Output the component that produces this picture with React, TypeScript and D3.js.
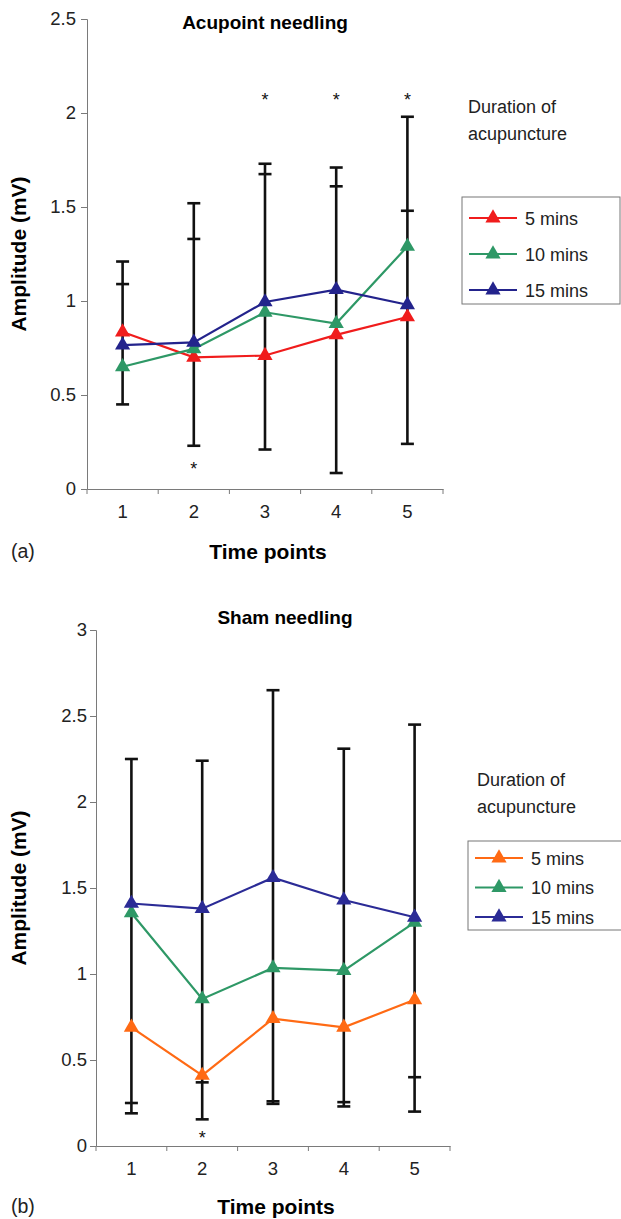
import React, { useRef, useEffect } from 'react';
import * as d3 from 'd3';

const timePoints = ['1', '2', '3', '4', '5'];
const seriesNames = ['5 mins', '10 mins', '15 mins'];

// (a) acupoint needling, mean amplitude (mV)
const acu5 = [0.835, 0.7, 0.71, 0.82, 0.915];
const acu10 = [0.65, 0.745, 0.94, 0.88, 1.29];
const acu15 = [0.765, 0.78, 0.995, 1.06, 0.98];
// error bar end values at each time point
const acuErrorEnds = [
  [1.21, 1.09, 0.45],
  [1.52, 1.33, 0.23],
  [1.73, 1.675, 0.21],
  [1.71, 1.61, 0.085],
  [1.98, 1.48, 0.24],
];
const acuStars = [
  { t: '2', v: 0.13 },
  { t: '3', v: 2.09 },
  { t: '4', v: 2.09 },
  { t: '5', v: 2.09 },
];
const acuTicks = [0, 0.5, 1, 1.5, 2, 2.5];

// (b) sham needling
const sham5 = [0.69, 0.41, 0.74, 0.69, 0.85];
const sham10 = [1.355, 0.855, 1.035, 1.02, 1.3];
const sham15 = [1.41, 1.38, 1.56, 1.43, 1.33];
const shamErrorEnds = [
  [2.25, 0.25, 0.19],
  [2.24, 0.37, 0.155],
  [2.65, 0.26, 0.245],
  [2.31, 0.255, 0.23],
  [2.45, 0.4, 0.2],
];
const shamStars = [{ t: '2', v: 0.07 }];
const shamTicks = [0, 0.5, 1, 1.5, 2, 2.5, 3];

const FONT = '"Liberation Sans", Arial, Helvetica, sans-serif';

const drawPanel = (svg, cfg) => {
  const { left, right, top, bottom, yMax, ticks, series, colors, errorEnds, stars,
    title, titleX, titleY, label, xLabelY, legend } = cfg;

  const x = d3.scaleBand().domain(timePoints).range([left, right]);
  const y = d3.scaleLinear().domain([0, yMax]).range([bottom, top]);
  const g = svg.append('g');

  // axes
  const yAxis = g.append('g')
    .attr('transform', `translate(${left},0)`)
    .call(d3.axisLeft(y).tickValues(ticks).tickSize(6).tickPadding(cfg.yPad).tickFormat(d3.format('')));
  const xAxis = g.append('g')
    .attr('transform', `translate(0,${bottom})`)
    .call(d3.axisBottom(x).tickSize(0).tickPadding(16));
  [yAxis, xAxis].forEach(a => {
    a.style('font-size', '18.5px').style('font-family', FONT);
    a.select('.domain').attr('stroke', '#7a7a7a');
    a.selectAll('.tick line').attr('stroke', '#7a7a7a');
    a.selectAll('text').style('font-size', '18.5px').style('font-family', FONT).attr('fill', '#222');
  });
  // category boundary ticks on the x axis
  const bounds = timePoints.map(t => x(t)).concat([right]);
  xAxis.selectAll('.bound')
    .data(bounds)
    .enter()
    .append('line')
    .attr('x1', d => d).attr('x2', d => d)
    .attr('y1', 0).attr('y2', 5)
    .attr('stroke', '#7a7a7a');

  const cx = t => x(t) + x.bandwidth() / 2;

  // error bars
  errorEnds.forEach((ends, i) => {
    const t = timePoints[i];
    const vals = ends.concat(series.map(s => s[i]));
    g.append('line')
      .attr('x1', cx(t)).attr('x2', cx(t))
      .attr('y1', y(d3.min(vals))).attr('y2', y(d3.max(vals)))
      .attr('stroke', '#111').attr('stroke-width', 2.6);
    ends.forEach(v => {
      g.append('line')
        .attr('x1', cx(t) - 6.5).attr('x2', cx(t) + 6.5)
        .attr('y1', y(v)).attr('y2', y(v))
        .attr('stroke', '#111').attr('stroke-width', 2.6);
    });
  });

  // series lines
  const line = d3.line().x((d, i) => cx(timePoints[i])).y(d => y(d));
  series.forEach((s, k) => {
    g.append('path')
      .datum(s)
      .attr('d', line)
      .attr('fill', 'none')
      .attr('stroke', colors[k])
      .attr('stroke-width', 2.2);
  });
  const tri = d3.symbol(d3.symbolTriangle).size(100);
  series.forEach((s, k) => {
    g.selectAll(null)
      .data(s)
      .enter()
      .append('path')
      .attr('d', tri)
      .attr('transform', (d, i) => `translate(${cx(timePoints[i])},${y(d)})`)
      .attr('fill', colors[k]);
  });

  // asterisks
  g.selectAll(null)
    .data(stars)
    .enter()
    .append('text')
    .attr('x', d => cx(d.t))
    .attr('y', d => y(d.v) + 10)
    .attr('text-anchor', 'middle')
    .attr('font-family', FONT)
    .attr('font-size', 18)
    .attr('fill', '#111')
    .text('*');

  // titles
  g.append('text')
    .attr('x', titleX).attr('y', titleY)
    .attr('text-anchor', 'middle')
    .attr('font-family', FONT).attr('font-weight', 'bold').attr('font-size', 19)
    .text(title);
  g.append('text')
    .attr('transform', `translate(26,${(top + bottom) / 2}) rotate(-90)`)
    .attr('text-anchor', 'middle')
    .attr('font-family', FONT).attr('font-weight', 'bold').attr('font-size', 21)
    .text('Amplitude (mV)');
  g.append('text')
    .attr('x', (left + right) / 2 + 3).attr('y', xLabelY)
    .attr('text-anchor', 'middle')
    .attr('font-family', FONT).attr('font-weight', 'bold').attr('font-size', 21)
    .text('Time points');
  g.append('text')
    .attr('x', 11).attr('y', xLabelY - 1)
    .attr('font-family', FONT).attr('font-size', 19.5).attr('fill', '#222')
    .text(label);

  // legend
  const lg = g.append('g').attr('font-family', FONT).attr('font-size', 18).attr('fill', '#222');
  lg.append('text').attr('x', legend.textX).attr('y', legend.headY).text('Duration of');
  lg.append('text').attr('x', legend.textX).attr('y', legend.headY + 27).text('acupuncture');
  lg.append('rect')
    .attr('x', legend.boxX).attr('y', legend.boxY)
    .attr('width', legend.boxW).attr('height', legend.boxH)
    .attr('fill', 'none').attr('stroke', '#777').attr('stroke-width', 1);
  seriesNames.forEach((name, k) => {
    const ly = legend.rowY + k * legend.rowGap;
    lg.append('line')
      .attr('x1', legend.boxX + 7).attr('x2', legend.boxX + 55)
      .attr('y1', ly).attr('y2', ly)
      .attr('stroke', colors[k]).attr('stroke-width', 2);
    lg.append('path')
      .attr('d', tri)
      .attr('transform', `translate(${legend.boxX + 31},${ly})`)
      .attr('fill', colors[k]);
    lg.append('text')
      .attr('x', legend.boxX + 63).attr('y', ly + 6.5)
      .text(name);
  });
};

const App = () => {
  const ref = useRef(null);

  useEffect(() => {
    document.body.style.margin = '0';
    d3.select(ref.current).selectAll('*').remove();

    const svg = d3.select(ref.current)
      .append('svg')
      .attr('width', 621)
      .attr('height', 1219)
      .style('display', 'block')
      .style('background', '#fff');

    drawPanel(svg, {
      left: 87, right: 443, top: 19, bottom: 489, yMax: 2.5, yPad: 5,
      ticks: acuTicks,
      series: [acu5, acu10, acu15],
      colors: ['#f01c1c', '#2e9866', '#23238c'],
      errorEnds: acuErrorEnds,
      stars: acuStars,
      title: 'Acupoint needling', titleX: 265, titleY: 29,
      label: '(a)', xLabelY: 559,
      legend: { textX: 468, headY: 113, boxX: 462, boxY: 197, boxW: 158, boxH: 107, rowY: 218, rowGap: 36 },
    });

    drawPanel(svg, {
      left: 96, right: 450, top: 630, bottom: 1146, yMax: 3, yPad: 3,
      ticks: shamTicks,
      series: [sham5, sham10, sham15],
      colors: ['#ff6a14', '#2e9866', '#2b2b96'],
      errorEnds: shamErrorEnds,
      stars: shamStars,
      title: 'Sham needling', titleX: 285, titleY: 624,
      label: '(b)', xLabelY: 1214,
      legend: { textX: 477, headY: 786, boxX: 468, boxY: 841, boxW: 160, boxH: 89, rowY: 858, rowGap: 29.5 },
    });
  }, []);

  return <div ref={ref}></div>;
};

export default App;
